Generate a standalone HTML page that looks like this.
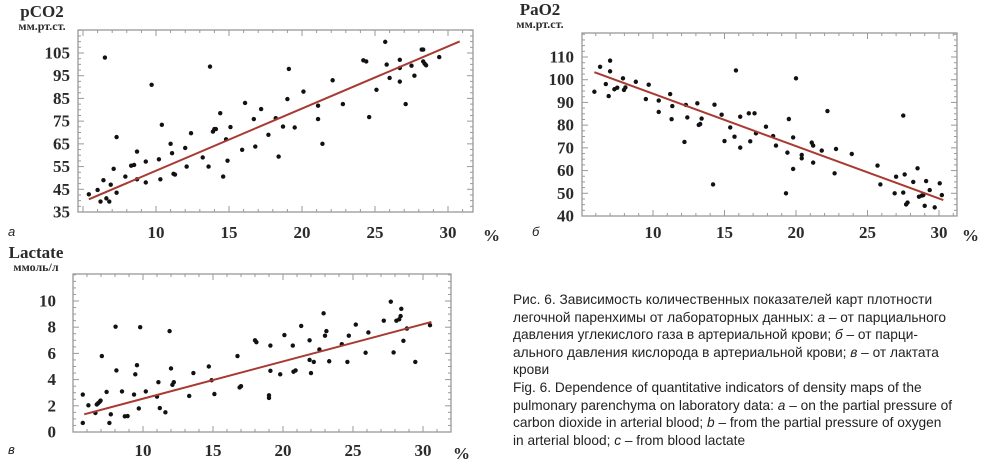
<!DOCTYPE html>
<html><head><meta charset="utf-8"><style>
body{margin:0;background:#fff;width:985px;height:466px;overflow:hidden;font-family:"Liberation Sans",sans-serif}
svg{position:absolute;left:0;top:0}
.cap{position:absolute;left:513px;top:291px;font-size:13.7px;line-height:17.6px;color:#222;width:470px;white-space:nowrap}
</style></head><body>
<svg id="fig" width="985" height="466"></svg>
<div class="cap">Рис. 6. Зависимость количественных показателей карт плотности<br>легочной паренхимы от лабораторных данных: <i>а</i> – от парциального<br>давления углекислого газа в артериальной крови; <i>б</i> – от парци-<br>ального давления кислорода в артериальной крови; <i>в</i> – от лактата<br>крови<br>Fig. 6. Dependence of quantitative indicators of density maps of the<br>pulmonary parenchyma on laboratory data: <i>a</i> – on the partial pressure of<br>carbon dioxide in arterial blood; <i>b</i> – from the partial pressure of oxygen<br>in arterial blood; <i>c</i> – from blood lactate</div>
<script>
const xTicks=[10,15,20,25,30];
const aYTicks=[35,45,55,65,75,85,95,105];
const bYTicks=[40,50,60,70,80,90,100,110];
const cYTicks=[0,2,4,6,8,10];
const aX=[5.4,6.0,6.2,6.4,6.5,6.6,6.8,6.9,7.1,7.3,7.3,7.9,8.3,8.5,8.7,8.7,9.3,9.3,9.7,10.2,10.3,10.4,11,11.1,11.2,11.3,12,12.1,12.4,13.2,13.6,13.7,13.9,14,14.1,14.4,14.6,14.8,14.9,15.1,15.9,16.1,16.7,16.8,17.2,17.7,18.2,18.4,18.7,19,19.1,19.5,20.1,21.1,21.1,21.4,22.1,22.8,24.2,24.4,24.6,25.1,25.7,25.8,26,26.7,26.7,26.7,27.1,27.5,27.7,28.2,28.3,28.3,28.4,28.5,29.4];
const aY=[42.8,44.7,39.6,49,103,41,39.6,47,54,43.5,68,50.6,55.4,55.7,61.6,49.4,57.2,48,91,58.2,49.4,73.4,65,60.9,51.8,51.5,63.2,55,69.7,59,55,99,70.4,71.5,71.5,78.5,50.6,67,57.6,72.4,62.4,83,75.9,63.8,80.3,69,76.3,59.4,72.6,84.7,98,72.2,88,81.8,75.9,65,93,82.5,101.8,101.3,76.8,88.8,109.9,99.9,94,102,98.4,92.4,82.5,99.4,95,106.5,106.5,101.3,100.3,99.6,103.2];
const aLineX=[5.4,30.8];
const aLineY=[40.6,110.1];
const bX=[5.9,6.3,6.7,6.9,7,7,7.3,7.5,7.9,7.97,8.07,8.8,9.5,9.7,10.4,10.4,11.2,11.35,11.3,12.2,12.3,12.4,13.1,13.2,13.3,13.4,14.2,14.3,14.8,15,15.4,15.7,15.8,16.1,16.1,16.7,17.1,16.8,17.2,17.9,18.4,18.6,19.3,19.4,19.5,19.8,19.8,20,20.4,20.4,21.1,21.2,21.2,21.8,22.2,22.7,22.8,23.9,25.7,25.9,26.9,27,27.5,27.5,27.6,27.7,27.8,28.2,28.5,28.6,28.8,28.9,29,29.1,29.35,29.7,30.05,30.2];
const bY=[94.7,105.7,98.1,92.8,108.4,103.7,95.8,96.5,100.6,95.5,96.6,99.1,91.5,97.8,90.8,85.8,93.7,88.4,82.6,72.6,88.9,83.4,89.6,80.1,80.5,82.9,53.9,89,84.6,73,79,74.9,104.1,83.7,70.1,85.2,85.2,72.9,76.4,79.3,75.2,71,50,67.9,82.7,74.6,60.7,100.6,66.9,65.4,72.3,71,63.5,68.8,86.2,58.8,69.5,67.3,62.2,53.9,50,57.3,84.2,50.3,58.3,45.1,45.9,55,61,48.5,49,49.2,44.5,55.4,51.4,43.8,54.4,49.2];
const bLineX=[5.9,30.3];
const bLineY=[103.3,47];
const cX=[5.7,5.7,6.1,6.6,6.7,6.8,6.9,6.97,7.06,7.4,7.6,7.7,8.04,8.1,8.5,8.7,8.9,9.36,9.45,9.57,9.7,9.8,10.2,11,11.1,11.2,11.6,11.9,12,12.1,12.2,13.3,13.6,14.7,14.9,15.1,16.75,16.9,17,18,18.1,19,19,19.1,19.1,19.8,20.1,20.7,20.75,20.9,21.3,21.9,21.9,22,22.2,22.6,22.9,23,23.1,23.3,24.2,24.6,24.7,25.2,25.9,26.1,27.2,27.7,27.9,28.1,28.3,28.4,28.45,28.6,28.85,29.45,30.5];
const cY=[2.86,0.69,2.04,1.45,2.1,2.2,2.3,2.4,5.8,3.06,0.69,1.35,8.04,4.7,3.1,1.2,1.22,2.86,4.4,5.1,1.8,8,3.1,2.7,3.8,1.83,1.5,7.7,4.85,3.6,3.8,2.75,4.5,5.0,3.95,2.9,5.8,3.4,3.5,7,6.86,2.8,2.6,6.6,4.67,4.4,7.4,6.6,4.6,4.7,8.1,7,5.5,4.5,5.35,6.3,9.06,7.35,7.7,5.4,6.7,5.35,7.35,8.2,6.05,7.6,8.5,9.95,6.07,8.5,8.6,8.85,9.4,6.96,7.9,5.35,8.15];
const cLineX=[5.8,30.6];
const cLineY=[1.35,8.4];

const NS='http://www.w3.org/2000/svg';
const svg=document.getElementById('fig');
function mk(tag,at,parent,txt){const e=document.createElementNS(NS,tag);for(const k in at)e.setAttribute(k,at[k]);if(txt!==undefined)e.textContent=txt;(parent||svg).appendChild(e);return e;}

function chart(c,xs,ys,lx,ly,yTicks){
  const g=mk('g',{});
  
  
  const sx=v=>c.x10+(v-10)*c.px5/5;
  const Y=v=>c.yb+(v-c.y0)/(c.v1-c.y0)*(c.yt-c.yb);
  const frame=mk('rect',{x:c.L,y:c.T,width:c.R-c.L,height:c.B-c.T,fill:'none',stroke:'#999','stroke-width':1.3},g);
  
  
  for(let v=5;v<=31;v++){const px=sx(v);if(px<=c.L||px>=c.R)continue;const L=(v%5===0)?6:3;
    mk('line',{x1:px,x2:px,y1:c.B,y2:c.B-L,stroke:'#999'},g);mk('line',{x1:px,x2:px,y1:c.T,y2:c.T+L,stroke:'#999'},g);}
  const step=c.minor;
  for(let v=c.y0-step*4;v<=c.v1+step*6;v+=step){const py=Y(v);if(py<=c.T||py>=c.B)continue;
    const major=yTicks.some(t=>Math.abs(t-v)<1e-6);const L=major?6:3;
    mk('line',{x1:c.L,x2:c.L+L,y1:py,y2:py,stroke:'#999'},g);mk('line',{x1:c.R,x2:c.R-L,y1:py,y2:py,stroke:'#999'},g);}
  xTicks.forEach(t=>{const e=mk('text',{x:sx(t),y:c.xly,'text-anchor':'middle','font-family':'Liberation Serif,serif','font-size':17,'font-weight':600,fill:'#2a2a2a'},g,t);
    });
  yTicks.forEach(t=>{const e=mk('text',{x:c.ylx,y:Y(t)+5.5,'text-anchor':'end','font-family':'Liberation Serif,serif','font-size':17,'font-weight':600,fill:'#2a2a2a'},g,t);
    });
  xs.forEach((x,i)=>{const d=mk('circle',{cx:sx(x),cy:Y(ys[i]),r:2.2,fill:'#111'},g);
    });
  const ln=mk('line',{x1:sx(lx[0]),y1:Y(ly[0]),x2:sx(lx[1]),y2:Y(ly[1]),stroke:'#a83a32','stroke-width':2},g);
  
  const t1=mk('text',{x:c.tx,y:c.ty,'text-anchor':'middle','font-family':'Liberation Serif,serif','font-weight':'bold','font-size':17,fill:'#2a2a2a'},g,c.t1);
  
  const t2=mk('text',{x:c.tx,y:c.ty+13,'text-anchor':'middle','font-family':'Liberation Serif,serif','font-weight':'bold','font-size':12,fill:'#2a2a2a'},g,c.t2);
  
  const pc=mk('text',{x:c.pcx,y:c.xly+3,'font-family':'Liberation Serif,serif','font-size':17,'font-weight':600,fill:'#2a2a2a'},g,'%');
  
  const pl=mk('text',{x:c.plx,y:c.xly-2,'font-family':'Liberation Sans,sans-serif','font-style':'italic','font-size':13,fill:'#222'},g,c.letter);
  
}
chart({name:'chart-pco2',L:78,R:473,T:30,B:212,x10:156,px5:73,y0:35,v1:105,yb:212,yt:53,minor:2.5,xly:238,ylx:70,tx:42,ty:17,t1:'pCO2',t2:'мм.рт.ст.',pcx:483,plx:8,letter:'а'},aX,aY,aLineX,aLineY,aYTicks);
chart({name:'chart-pao2',L:582,R:957,T:33,B:216,x10:653,px5:71.5,y0:40,v1:110,yb:216,yt:57,minor:2.5,xly:238,ylx:574,tx:540,ty:15,t1:'PaO2',t2:'мм.рт.ст.',pcx:962,plx:532,letter:'б'},bX,bY,bLineX,bLineY,bYTicks);
chart({name:'chart-lactate',L:73,R:451,T:274,B:432,x10:143,px5:70,y0:0,v1:10,yb:432,yt:301,minor:0.5,xly:456,ylx:56,tx:36,ty:258,t1:'Lactate',t2:'ммоль/л',pcx:453,plx:8,letter:'в'},cX,cY,cLineX,cLineY,cYTicks);
</script>
</body></html>
